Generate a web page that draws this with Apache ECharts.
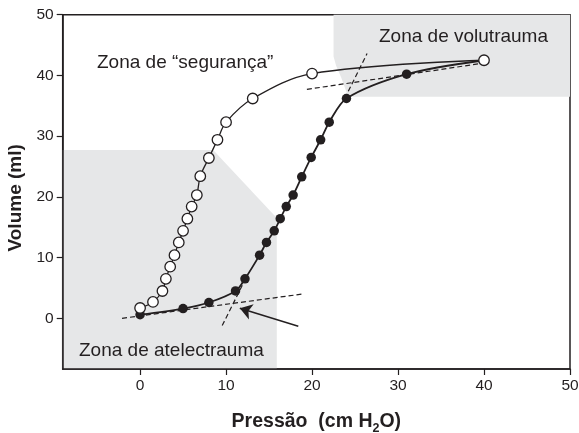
<!DOCTYPE html>
<html>
<head>
<meta charset="utf-8">
<script src="https://cdn.jsdelivr.net/npm/echarts@6/dist/echarts.min.js"></script>
<style>
  html, body { margin: 0; padding: 0; background: #fff; }
  #chart { width: 579px; height: 433px; }
</style>
</head>
<body>
<div id="chart"></div>
<script>
var xTicks = [0, 10, 20, 30, 40, 50];
var yTicks = [0, 10, 20, 30, 40, 50];

// open circles (upper curve)
var openPressure = [0, 1.5, 2.6, 3.0, 3.5, 4.0, 4.5, 5.0, 5.5, 6.0, 6.6, 7.0, 8.0, 9.0, 10.0, 13.1, 20.0, 40.0];
var openVolume = [1.7, 2.7, 4.5, 6.5, 8.5, 10.4, 12.5, 14.4, 16.4, 18.4, 20.3, 23.4, 26.4, 29.4, 32.3, 36.2, 40.3, 42.5];

// filled circles (lower curve), last point ends on the open circle
var filledPressure = [0, 5, 8, 11.1, 12.2, 13.9, 14.7, 15.6, 16.3, 17.0, 17.8, 18.8, 19.9, 21.0, 22.0, 24.0, 31.0, 40.0];
var filledVolume = [0.6, 1.6, 2.6, 4.5, 6.5, 10.4, 12.5, 14.4, 16.4, 18.4, 20.3, 23.3, 26.5, 29.4, 32.3, 36.2, 40.2, 42.5];

// shaded zones
var atelectraumaZone = [[-9, 27.7], [8.5, 27.7], [15.9, 16.5], [15.9, -8.35], [-9, -8.35]];
var volutraumaZone = [[22.5, 50], [22.5, 43.1], [22.8, 41.6], [23.4, 39.6], [24.2, 36.5], [50, 36.5], [50, 50]];
var zones = [atelectraumaZone, volutraumaZone];

// dashed tangents
var tangents = [
  [[-2.1, 0.0], [18.9, 4.0]],
  [[9.55, -1.2], [12.3, 6.6]],
  [[19.4, 37.7], [39.8, 42.0]],
  [[23.8, 36.2], [26.4, 43.6]]
];

// arrow pointing at the lower inflection
var arrow = [[18.4, -1.3], [11.6, 1.65]];

var ink = "#231f20";

function pairs(xs, ys) {
  var out = [];
  for (var i = 0; i < xs.length; i++) {
    out.push([xs[i], ys[i]]);
  }
  return out;
}

var filledData = pairs(filledPressure, filledVolume).map(function(p, i) {
  if (i === filledPressure.length - 1) {
    return { value: p, symbol: "none" };
  }
  return p;
});

var myChart = echarts.init(document.getElementById("chart"));

var option = {
  animation: false,
  grid: {
    left: 62.7,
    right: 9,
    top: 14.7,
    bottom: 64,
    outerBoundsMode: "none",
    containLabel: false,
    show: true,
    borderColor: ink,
    borderWidth: 1.5,
    backgroundColor: "transparent"
  },
  xAxis: {
    type: "value",
    min: -9,
    max: 50,
    name: "{t|Pressão  (cm H}{s|2}{t|O)}",
    nameLocation: "middle",
    nameGap: 40,
    nameTextStyle: {
      rich: {
        t: { fontFamily: "Liberation Sans", fontSize: 19.5, fontWeight: "bold", color: ink, lineHeight: 26 },
        s: { fontFamily: "Liberation Sans", fontSize: 12.5, fontWeight: "bold", color: ink, verticalAlign: "bottom" }
      }
    },
    axisLine: { onZero: false, lineStyle: { color: ink, width: 1.5 } },
    axisTick: { customValues: xTicks, length: 6, lineStyle: { color: ink, width: 1.2 } },
    axisLabel: {
      customValues: xTicks,
      fontFamily: "Liberation Sans",
      fontSize: 15.5,
      color: ink,
      margin: 9
    },
    splitLine: { show: false }
  },
  yAxis: {
    type: "value",
    min: -8.35,
    max: 50,
    name: "Volume (ml)",
    nameLocation: "middle",
    nameRotate: 90,
    nameGap: 36,
    nameTextStyle: {
      fontFamily: "Liberation Sans",
      fontSize: 19,
      fontWeight: "bold",
      color: ink,
      padding: [0, 12, 0, 0]
    },
    axisLine: { onZero: false, lineStyle: { color: ink, width: 1.5 } },
    axisTick: { customValues: yTicks, length: 6, lineStyle: { color: ink, width: 1.2 } },
    axisLabel: {
      customValues: yTicks,
      fontFamily: "Liberation Sans",
      fontSize: 15.5,
      color: ink,
      margin: 9
    },
    splitLine: { show: false }
  },
  graphic: [
    {
      type: "text",
      z: 100,
      x: 97,
      y: 63,
      style: { text: "Zona de “segurança”", font: "19px 'Liberation Sans'", fill: ink, verticalAlign: "middle" }
    },
    {
      type: "text",
      z: 100,
      x: 379,
      y: 37,
      style: { text: "Zona de volutrauma", font: "19px 'Liberation Sans'", fill: ink, verticalAlign: "middle" }
    },
    {
      type: "text",
      z: 100,
      x: 79,
      y: 351,
      style: { text: "Zona de atelectrauma", font: "19px 'Liberation Sans'", fill: ink, verticalAlign: "middle" }
    }
  ],
  series: [
    {
      type: "custom",
      z: 0,
      silent: true,
      data: [[0, 0], [0, 0]],
      renderItem: function(params, api) {
        var pts = zones[params.dataIndex].map(function(p) {
          return api.coord(p);
        });
        return {
          type: "polygon",
          shape: { points: pts },
          style: { fill: "#e6e7e8" }
        };
      }
    },
    {
      type: "lines",
      coordinateSystem: "cartesian2d",
      z: 3,
      silent: true,
      lineStyle: { color: ink, width: 1.2, type: [5, 3], opacity: 1 },
      data: tangents.map(function(t) {
        return { coords: t };
      })
    },
    {
      type: "lines",
      coordinateSystem: "cartesian2d",
      z: 3,
      silent: true,
      symbol: ["none", "arrow"],
      symbolSize: 12,
      lineStyle: { color: ink, width: 1.5, opacity: 1 },
      data: [{ coords: arrow }]
    },
    {
      name: "filled",
      type: "line",
      z: 4,
      smooth: 0.3,
      symbol: "circle",
      symbolSize: 9.5,
      itemStyle: { color: ink, borderColor: ink, borderWidth: 0 },
      lineStyle: { color: ink, width: 1.8 },
      data: filledData
    },
    {
      name: "open",
      type: "line",
      z: 5,
      smooth: 0.35,
      symbol: "circle",
      symbolSize: 10.5,
      itemStyle: { color: "#fff", borderColor: ink, borderWidth: 1.3 },
      lineStyle: { color: ink, width: 1.3 },
      data: pairs(openPressure, openVolume)
    }
  ]
};

myChart.setOption(option);
</script>
</body>
</html>
